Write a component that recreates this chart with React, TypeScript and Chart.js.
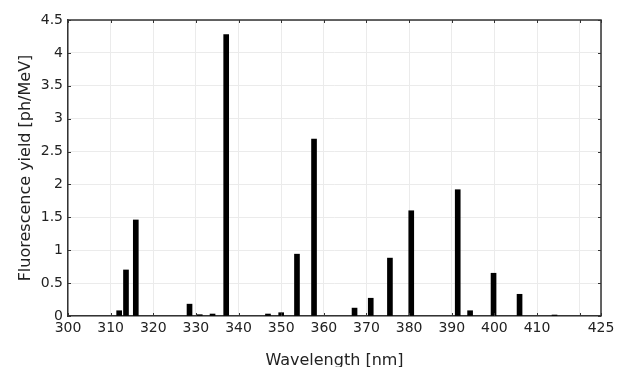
import React, { useEffect, useRef } from "react";
import { Chart, registerables } from "chart.js";

Chart.register(...registerables);

const wavelengths = [312.0, 313.6, 315.9, 328.5, 330.9, 333.9, 337.1, 346.9, 350.0, 353.7, 357.7, 367.2, 371.0, 375.5, 380.5, 391.4, 394.3, 399.8, 405.9, 414.1];
const yields = [0.08, 0.70, 1.46, 0.18, 0.02, 0.03, 4.28, 0.03, 0.05, 0.94, 2.69, 0.12, 0.27, 0.88, 1.60, 1.92, 0.08, 0.65, 0.33, 0.015];
const xTickValues = [300, 310, 320, 330, 340, 350, 360, 370, 380, 390, 400, 410, 420, 425];
const xHiddenLabels = [420];
const yTickValues = [0, 0.5, 1, 1.5, 2, 2.5, 3, 3.5, 4, 4.5];

const FONT = "'DejaVu Sans', sans-serif";

const frameTicks = {
  id: "frameTicks",
  afterDraw(chart: any) {
    const { ctx, chartArea } = chart;
    const { left, right, top, bottom } = chartArea;
    const xs = chart.scales.x;
    const ys = chart.scales.y;
    ctx.save();
    ctx.strokeStyle = "#333";
    ctx.lineWidth = 1;
    const len = 3;
    ctx.beginPath();
    for (const v of xTickValues) {
      const px = Math.round(xs.getPixelForValue(v)) + 0.5;
      ctx.moveTo(px, bottom);
      ctx.lineTo(px, bottom - len);
      ctx.moveTo(px, top);
      ctx.lineTo(px, top + len);
    }
    for (const v of yTickValues) {
      const py = Math.round(ys.getPixelForValue(v)) + 0.5;
      ctx.moveTo(left, py);
      ctx.lineTo(left + len, py);
      ctx.moveTo(right, py);
      ctx.lineTo(right - len, py);
    }
    ctx.stroke();
    ctx.lineWidth = 1.5;
    ctx.beginPath();
    ctx.moveTo(left, top);
    ctx.lineTo(right, top);
    ctx.lineTo(right, bottom);
    ctx.stroke();
    ctx.restore();
  },
};

export default function App() {
  const ref = useRef<HTMLCanvasElement | null>(null);
  useEffect(() => {
    if (!ref.current) return;
    const chart = new Chart(ref.current, {
      type: "bar",
      data: {
        datasets: [
          {
            data: wavelengths.map((w, i) => ({ x: w, y: yields[i] })),
            backgroundColor: "#000",
            borderWidth: 0,
            barThickness: 5,
          },
        ],
      },
      options: {
        animation: false,
        responsive: false,
        maintainAspectRatio: false,
        layout: { padding: { top: 20, right: 18, left: 0, bottom: 0 } },
        plugins: { legend: { display: false }, tooltip: { enabled: false } },
        scales: {
          x: {
            type: "linear",
            min: 300,
            max: 425,
            offset: false,
            afterBuildTicks: (scale: any) => {
              scale.ticks = xTickValues.map((v) => ({ value: v }));
            },
            afterFit: (scale: any) => {
              scale.height = 51;
            },
            ticks: {
              autoSkip: false,
              maxRotation: 0,
              padding: 4,
              color: "#222",
              font: { family: FONT, size: 14 },
              callback: (v: any) => (xHiddenLabels.includes(v) ? "" : String(v)),
            },
            grid: { color: "#ebebeb", drawTicks: false, offset: false },
            border: { display: true, color: "#333", width: 1.5 },
            title: {
              display: true,
              text: "Wavelength [nm]",
              color: "#222",
              font: { family: FONT, size: 16 },
              padding: { top: 0, bottom: -3 },
            },
          },
          y: {
            min: 0,
            max: 4.5,
            afterBuildTicks: (scale: any) => {
              scale.ticks = yTickValues.map((v) => ({ value: v }));
            },
            afterFit: (scale: any) => {
              scale.width = 68;
            },
            ticks: {
              padding: 5,
              color: "#222",
              font: { family: FONT, size: 14 },
              callback: (v: any) => String(v),
            },
            grid: { color: "#ebebeb", drawTicks: false },
            border: { display: true, color: "#333", width: 1.5 },
            title: {
              display: true,
              text: "Fluorescence yield [ph/MeV]",
              color: "#222",
              font: { family: FONT, size: 16 },
              padding: { top: 16, bottom: 0 },
            },
          },
        },
      },
      plugins: [frameTicks],
    } as any);
    return () => chart.destroy();
  }, []);
  return (
    <div style={{ position: "absolute", left: 0, top: 0, width: 619, height: 367, background: "#fff" }}>
      <canvas ref={ref} width={619} height={367} style={{ width: 619, height: 367, display: "block" }} />
    </div>
  );
}
